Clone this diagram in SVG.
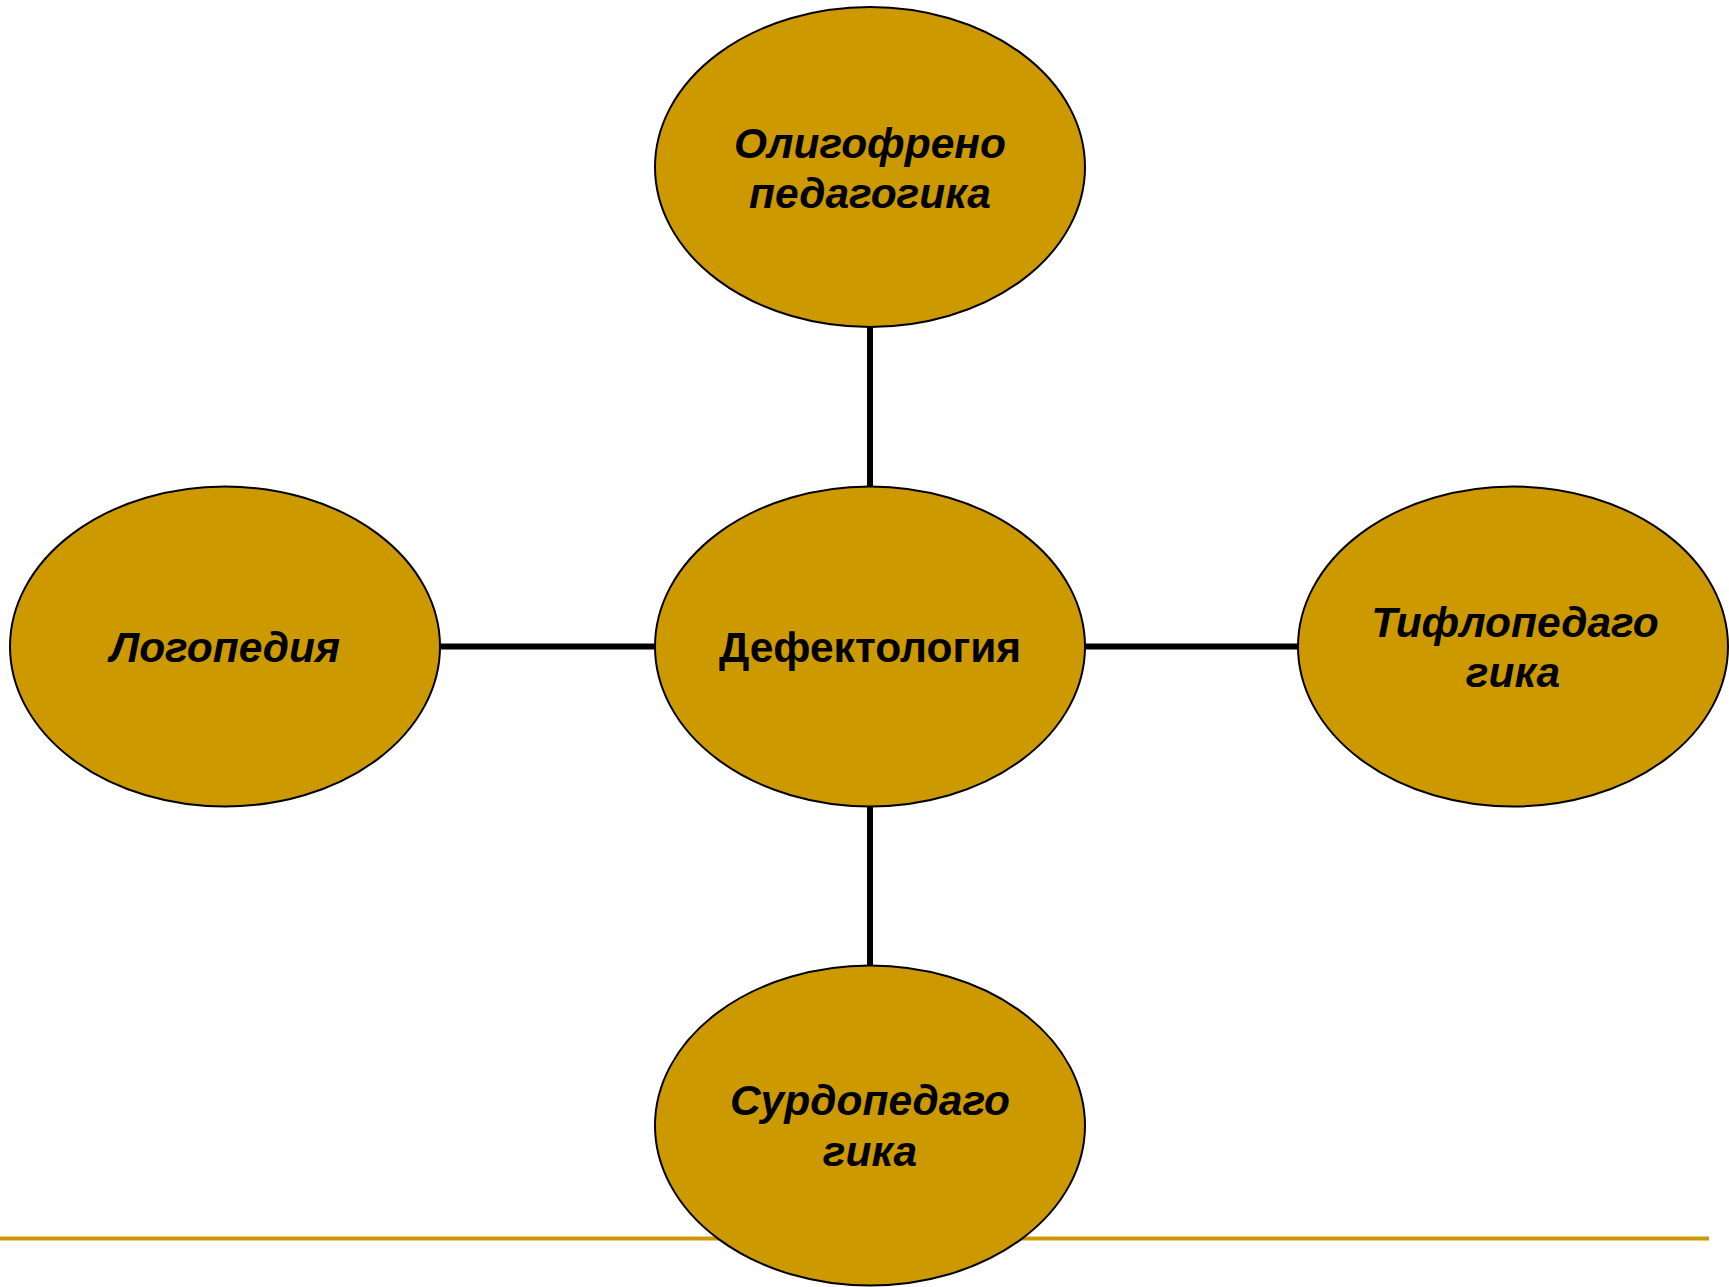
<svg xmlns="http://www.w3.org/2000/svg" width="1729" height="1287" viewBox="0 0 1729 1287">
<style>
.node{fill:#CC9900;stroke:#000;stroke-width:2}
.conn{stroke:#000;stroke-width:6;fill:none}
.t{font-family:"Liberation Sans",Arial,sans-serif;font-size:42.5px;font-weight:bold;fill:#000;text-anchor:middle}
.i{font-style:italic}
</style>
<rect width="1729" height="1287" fill="#fff"/>
<line x1="0" y1="1238.5" x2="1709" y2="1238.5" stroke="#CC9900" stroke-width="4"/>
<g id="connectors">
<line class="conn" x1="870" y1="327" x2="870" y2="487"/>
<line class="conn" x1="870" y1="806" x2="870" y2="966"/>
<line class="conn" x1="440" y1="646.5" x2="655" y2="646.5"/>
<line class="conn" x1="1085" y1="646.5" x2="1298" y2="646.5"/>
</g>
<g id="node-top">
<ellipse class="node" cx="870" cy="167" rx="215" ry="160"/>
<text class="t i" x="870" y="158">Олигофрено</text>
<text class="t i" x="870" y="208">педагогика</text>
</g>
<g id="node-center">
<ellipse class="node" cx="870" cy="646.5" rx="215" ry="160"/>
<text class="t" x="870" y="662">Дефектология</text>
</g>
<g id="node-left">
<ellipse class="node" cx="225" cy="646.5" rx="215" ry="160"/>
<text class="t i" x="225" y="662">Логопедия</text>
</g>
<g id="node-right">
<ellipse class="node" cx="1513" cy="646.5" rx="215" ry="160"/>
<text class="t i" x="1515" y="637">Тифлопедаго</text>
<text class="t i" x="1513" y="687">гика</text>
</g>
<g id="node-bottom">
<ellipse class="node" cx="870" cy="1125.5" rx="215" ry="160"/>
<text class="t i" x="870" y="1115">Сурдопедаго</text>
<text class="t i" x="870" y="1166">гика</text>
</g>
</svg>
